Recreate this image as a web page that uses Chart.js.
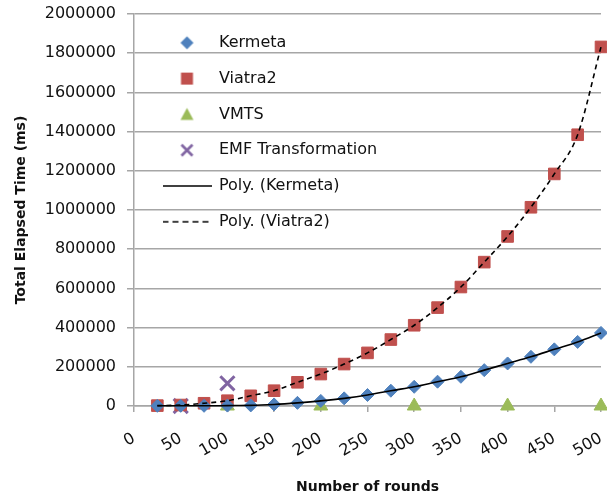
<!DOCTYPE html>
<html>
<head>
<meta charset="utf-8">
<script src="https://cdn.jsdelivr.net/npm/chart.js@4/dist/chart.umd.min.js"></script>
<style>
html,body{margin:0;padding:0;background:#ffffff;}
#wrap{width:607px;height:500px;position:relative;}
</style>
</head>
<body>
<div id="wrap"><canvas id="chart"></canvas></div>
<script>
// ---- data ----
const rounds = [25,50,75,100,125,150,175,200,225,250,275,300,325,350,375,400,425,450,475,500];
const kermetaTime = [1000,1000,1000,2000,3000,8000,16000,26000,39000,56000,78000,98000,124000,149000,183000,217000,251000,289000,327000,373000];
const viatra2Time = [2000,5000,14000,27000,52000,78000,121000,163000,214000,271000,339000,412000,502000,607000,734000,865000,1014000,1184000,1384000,1832000];
const vmtsRounds = [100,200,300,400,500];
const vmtsTime = [0,0,0,0,0];
const emfRounds = [50,100];
const emfTime = [0,116000];
const seriesNames = ['Kermeta','Viatra2','VMTS','EMF Transformation','Poly. (Kermeta)','Poly. (Viatra2)'];
const xTickLabels = ['0','50','100','150','200','250','300','350','400','450','500'];
const yTickLabels = ['0','200000','400000','600000','800000','1000000','1200000','1400000','1600000','1800000','2000000'];
const xTitle = 'Number of rounds';
const yTitle = 'Total Elapsed Time (ms)';

const C_KER = '#4F81BD', C_VIA = '#C0504D', C_VMTS = '#9BBB59', C_EMF = '#8064A2';
const FONT = 'DejaVu Sans';
const TEXT = '#111111';
const GRID = '#a6a6a6';

function pts(xs, ys){ return xs.map((x,i)=>({x:x, y:ys[i]})); }

// legend icons (drawn on small canvases)
function icon(kind, color){
  const c = document.createElement('canvas');
  c.width = 49; c.height = 18;
  const g = c.getContext('2d');
  const cx = 24.5, cy = 9;
  g.fillStyle = color; g.strokeStyle = color;
  g.beginPath();
  if (kind === 'diamond'){
    g.moveTo(cx-6.5,cy); g.lineTo(cx,cy-6.5); g.lineTo(cx+6.5,cy); g.lineTo(cx,cy+6.5); g.closePath(); g.fill();
  } else if (kind === 'square'){
    g.rect(cx-6,cy-6,12,12); g.fill();
  } else if (kind === 'triangle'){
    g.moveTo(cx,cy-6.5); g.lineTo(cx+6.5,cy+5.5); g.lineTo(cx-6.5,cy+5.5); g.closePath(); g.fill();
  } else if (kind === 'x'){
    g.lineWidth = 2.6;
    g.moveTo(cx-5.5,cy-5.5); g.lineTo(cx+5.5,cy+5.5); g.moveTo(cx+5.5,cy-5.5); g.lineTo(cx-5.5,cy+5.5); g.stroke();
  } else if (kind === 'solid' || kind === 'dash'){
    g.lineWidth = 1.5;
    if (kind === 'dash') g.setLineDash([6,4]);
    g.moveTo(0,cy); g.lineTo(49,cy); g.stroke();
  }
  return c;
}
const legendIcons = [icon('diamond',C_KER), icon('square',C_VIA), icon('triangle',C_VMTS), icon('x',C_EMF), icon('solid','#000'), icon('dash','#000')];

const legendPlace = {
  id: 'legendPlace',
  afterLayout(chart){
    const l = chart.legend; if (!l) return;
    l.left = chart.chartArea.left + 9.2;
    l.right = chart.chartArea.right;
    l.top = 15;
    l.bottom = chart.chartArea.bottom;
  }
};

new Chart(document.getElementById('chart'), {
  type: 'scatter',
  data: {
    datasets: [
      { label: seriesNames[0], data: pts(rounds, kermetaTime), pointStyle: 'rectRot', pointRadius: 6.5, pointHoverRadius: 6.5,
        backgroundColor: C_KER, borderColor: C_KER, borderWidth: 1, showLine: false, order: 1, clip: false },
      { label: seriesNames[1], data: pts(rounds, viatra2Time), pointStyle: 'rect', pointRadius: 8.2, pointHoverRadius: 8.2,
        backgroundColor: C_VIA, borderColor: C_VIA, borderWidth: 1, showLine: false, order: 1, clip: false },
      { label: seriesNames[2], data: pts(vmtsRounds, vmtsTime), pointStyle: 'triangle', pointRadius: 8, pointHoverRadius: 8,
        backgroundColor: C_VMTS, borderColor: C_VMTS, borderWidth: 1, showLine: false, order: 1, clip: false },
      { label: seriesNames[3], data: pts(emfRounds, emfTime), pointStyle: 'crossRot', pointRadius: 10, pointHoverRadius: 10,
        backgroundColor: C_EMF, borderColor: C_EMF, borderWidth: 3, showLine: false, order: 1, clip: false },
      { type: 'line', label: seriesNames[4], data: pts(rounds, kermetaTime), borderColor: '#000', backgroundColor: '#000',
        borderWidth: 1.6, pointRadius: 0, pointHoverRadius: 0, cubicInterpolationMode: 'monotone', fill: false, order: 0, clip: false },
      { type: 'line', label: seriesNames[5], data: pts(rounds, viatra2Time), borderColor: '#000', backgroundColor: '#000',
        borderWidth: 1.6, borderDash: [5,4], pointRadius: 0, pointHoverRadius: 0, cubicInterpolationMode: 'monotone', fill: false, order: 0, clip: false }
    ]
  },
  options: {
    responsive: true,
    maintainAspectRatio: false,
    animation: false,
    layout: { autoPadding: false, padding: { left: 8, right: 6, top: 14, bottom: 0 } },
    plugins: {
      tooltip: { enabled: false },
      legend: {
        position: 'chartArea',
        align: 'start',
        labels: {
          usePointStyle: true,
          pointStyleWidth: 48,
          padding: 19.8,
          color: TEXT,
          font: { family: FONT, size: 16 },
          sort: (a, b) => a.datasetIndex - b.datasetIndex,
          generateLabels(chart){
            const items = Chart.defaults.plugins.legend.labels.generateLabels(chart);
            return items.map(it => Object.assign(it, { pointStyle: legendIcons[it.datasetIndex], lineDash: [], lineWidth: 0, rotation: 0 }));
          }
        }
      }
    },
    scales: {
      x: {
        type: 'linear', min: 0, max: 500,
        afterFit(scale){ scale.height = 94; scale.paddingLeft = 0; scale.paddingRight = 0; },
        ticks: { stepSize: 50, minRotation: 30, maxRotation: 30, padding: 17, color: TEXT,
          font: { family: FONT, size: 16 }, callback: (v, i) => xTickLabels[i] },
        grid: { drawOnChartArea: false, drawTicks: true, tickLength: 6, color: GRID, lineWidth: 1.5 },
        border: { color: GRID, width: 1.5 },
        title: { display: true, text: xTitle, color: TEXT, font: { family: FONT, size: 14, weight: 'bold' }, padding: { top: 18, bottom: 4 } }
      },
      y: {
        type: 'linear', min: 0, max: 2000000,
        afterFit(scale){ scale.width = 126; scale.paddingTop = 0; scale.paddingBottom = 0; },
        ticks: { stepSize: 200000, padding: 11, color: TEXT, font: { family: FONT, size: 16 }, callback: (v, i) => yTickLabels[i] },
        grid: { color: GRID, lineWidth: 1.5, tickLength: 7 },
        border: { color: GRID, width: 1.5 },
        title: { display: true, text: yTitle, color: TEXT, font: { family: FONT, size: 14, weight: 'bold' }, padding: { top: 5, bottom: 15 } }
      }
    }
  },
  plugins: [legendPlace]
});
</script>
</body>
</html>
